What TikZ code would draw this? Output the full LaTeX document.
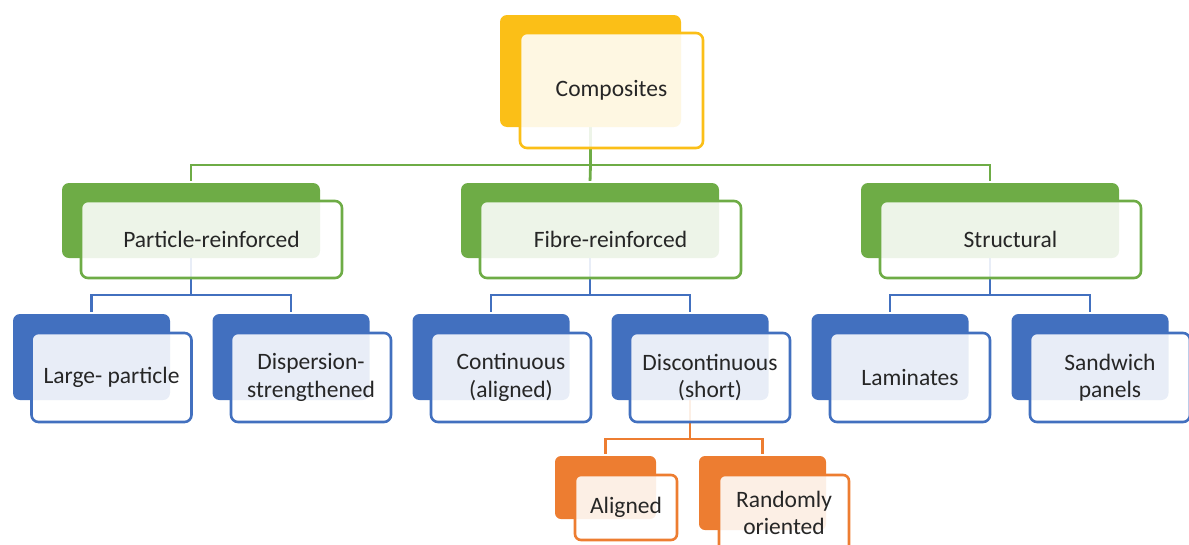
\documentclass[tikz,border=0pt]{standalone}
\usepackage{fontspec}
\setmainfont{Carlito}
\usetikzlibrary{positioning,backgrounds}

\definecolor{cgold}{HTML}{FBBF17}
\definecolor{cgreen}{HTML}{6EAC46}
\definecolor{cblue}{HTML}{4270BF}
\definecolor{corange}{HTML}{ED7D31}
\definecolor{ctext}{HTML}{262626}

\tikzset{
  backbox/.style={rectangle,rounded corners=7pt,inner sep=0pt,fill=#1},
  frontbox/.style={rectangle,rounded corners=7pt,inner sep=0pt,align=center,
    draw=#1,line width=2.6pt,fill=white,fill opacity=0.88,text opacity=1,
    text=ctext,font=\fontsize{23.5}{27.5}\selectfont},
  link/.style={draw=#1,line width=2.8pt,shorten >=2pt}
}

\begin{document}
\begin{tikzpicture}[x=1pt,y=-1pt]
\useasboundingbox (0,0) rectangle (1189,544);

% top
\node[backbox=cgold,minimum width=181pt,minimum height=112pt] (topb) at (590.5,71) {};
\node[frontbox=cgold,minimum width=183pt,minimum height=115pt] (top) at (611.5,90.5) {\raisebox{-2pt}{Composites}};

% green level
\begin{scope}
\def\gphr{1/191/{Particle-reinforced},2/590/{Fibre-reinforced},3/990/{Structural}}
\foreach \i / \x / \element in \gphr {
  \node[backbox=cgreen,minimum width=258pt,minimum height=75pt] (gb\i) at (\x,220.5) {};
  \node[frontbox=cgreen,minimum width=261pt,minimum height=77pt] (g\i) at (\x+20.5,239.5) {\raisebox{-1pt}{\element}};
}
\end{scope}

% blue level
\begin{scope}
\def\bphr{1/91.5/{Large- particle},2/291/{Dispersion-\\strengthened},3/491/{Continuous\\(aligned)},
  4/690/{Discontinuous\\(short)},5/890/{Laminates},6/1090/{Sandwich\\panels}}
\foreach \i / \x / \element in \bphr {
  \node[backbox=cblue,minimum width=157pt,minimum height=86pt] (bb\i) at (\x,357) {};
  \node[frontbox=cblue,minimum width=160pt,minimum height=89pt] (b\i) at (\x+20,377.5) {\element};
}
\end{scope}

% orange level
\node[backbox=corange,rounded corners=6pt,minimum width=101pt,minimum height=63pt] (ob1) at (605.5,487.5) {};
\node[frontbox=corange,rounded corners=6pt,minimum width=102pt,minimum height=65pt] (o1) at (626,507.5) {\raisebox{-1pt}{Aligned}};
\node[backbox=corange,rounded corners=6pt,minimum width=127pt,minimum height=74pt] (ob2) at (762.5,493) {};
\node[frontbox=corange,rounded corners=6pt,minimum width=130pt,minimum height=76pt] (o2) at (784,513) {Randomly\\oriented};

% connectors
\begin{scope}[on background layer]
\coordinate (gbar) at (590.5,165);
\draw[link=cgreen] (topb.south) -- (gbar) -| (gb1.north);
\draw[link=cgreen] (gbar) -| (gb3.north);
\draw[link=cgreen] (gbar) -- (gb2.north);

\foreach \p / \l / \r in {1/1/2,2/3/4,3/5/6} {
  \coordinate (bbar\p) at (gb\p.south |- 0,295);
  \draw[link=cblue] (gb\p.south) -- (bbar\p) -| (bb\l.north);
  \draw[link=cblue] (bbar\p) -| (bb\r.north);
}

\coordinate (obar) at (bb4.south |- 0,439);
\draw[link=corange] (bb4.south) -- (obar) -| (ob1.north);
\draw[link=corange] (obar) -| (ob2.north);
\end{scope}

\end{tikzpicture}
\end{document}
